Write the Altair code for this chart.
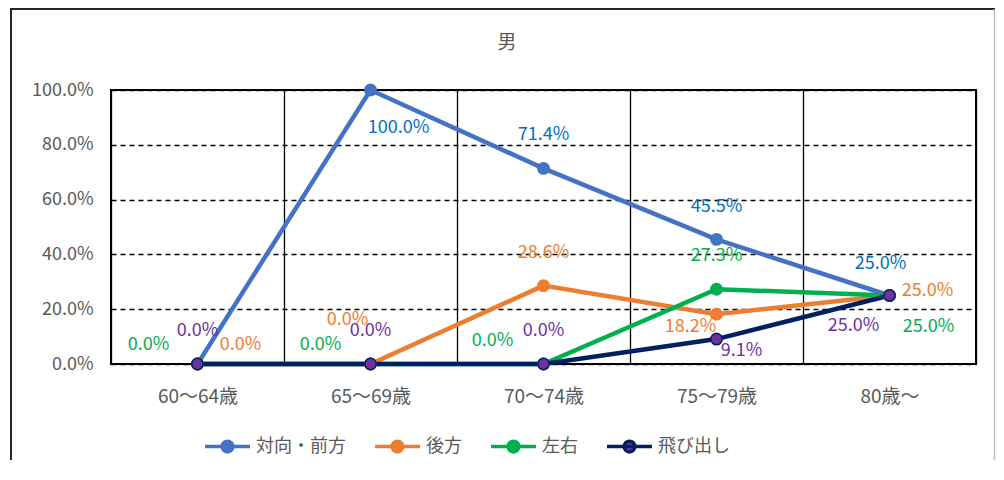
import altair as alt
import pandas as pd

categories = ["60～64歳", "65～69歳", "70～74歳", "75～79歳", "80歳～"]
series_names = ["対向・前方", "後方", "左右", "飛び出し"]
front = [0.0, 100.0, 71.4, 45.5, 25.0]
rear = [0.0, 0.0, 28.6, 18.2, 25.0]
side = [0.0, 0.0, 0.0, 27.3, 25.0]
dash = [0.0, 0.0, 0.0, 9.1, 25.0]
values = [front, rear, side, dash]

line_colors = ["#4472C4", "#ED7D31", "#00B050", "#002060"]
marker_fills = ["#4472C4", "#ED7D31", "#00B050", "#7030A0"]
label_colors = ["#0070C0", "#ED7D31", "#00B050", "#7030A0"]

# label placement offsets (px) per series / category; None = label hidden
label_offsets = [
    [None, (28, 38), (0, -33), (0, -32), (-9, -32)],
    [(43, -19), (-23, -44), (0, -33), (-26, 13), (38, -5)],
    [(-49, -19), (-50, -19), (-51, -23), (0, -33), (39, 31)],
    [(0, -33), (0, -33), (0, -33), (25, 12), (-36, 30)],
]

FONT = "Noto Sans CJK JP"
GRAY = "#595959"

rows = []
for s, vals in zip(series_names, values):
    for c, v in zip(categories, vals):
        rows.append({"cat": c, "series": s, "value": v})
df = pd.DataFrame(rows)

x_scale = alt.Scale(type="band", domain=categories, paddingInner=0, paddingOuter=0)
y_scale = alt.Scale(domain=[0, 100], nice=False)

x_axis = alt.X(
    "cat:N", sort=categories, scale=x_scale,
    axis=alt.Axis(title=None, tickBand="extent", grid=True, gridColor="black",
                  gridWidth=1.3, ticks=False, domain=False, labelAngle=0,
                  labelPadding=23, labelFontSize=19, labelColor=GRAY, labelFont=FONT),
)
y_axis = alt.Y(
    "value:Q", scale=y_scale,
    axis=alt.Axis(title=None, values=[0, 20, 40, 60, 80, 100],
                  labelExpr="format(datum.value, '.1f') + '%'",
                  grid=True, gridDash=[5, 4], gridColor="black", gridWidth=1.3,
                  ticks=False, tickSize=0, domain=False, labelPadding=18,
                  labelFontSize=18, labelColor=GRAY, labelFont=FONT),
)

legend = alt.Legend(
    title=None, orient="none", legendX=92, legendY=332, direction="horizontal",
    symbolType="M-1,0H1M-0.24,0A0.24,0.24 0 1,0 0.24,0A0.24,0.24 0 1,0 -0.24,0Z",
    symbolSize=2025, symbolStrokeWidth=3.5, labelFontSize=18, labelColor=GRAY,
    labelFont=FONT, columnPadding=22, labelOffset=4,
)

stroke_enc = alt.Stroke("series:N", scale=alt.Scale(domain=series_names, range=line_colors), legend=legend)
fill_enc = alt.Fill("series:N", scale=alt.Scale(domain=series_names, range=marker_fills), legend=legend)

base = alt.Chart(df)
lines = base.mark_line(strokeWidth=4.5).encode(
    x=x_axis, y=y_axis, stroke=stroke_enc, detail="series:N",
)
points = base.mark_point(filled=True, size=130, shape="circle", opacity=1, strokeWidth=1.5).encode(
    x=alt.X("cat:N", sort=categories, scale=x_scale),
    y=alt.Y("value:Q", scale=y_scale),
    fill=fill_enc, stroke=stroke_enc,
)

layers = [lines, points]

for i, s in enumerate(series_names):
    for j, c in enumerate(categories):
        off = label_offsets[i][j]
        if off is None:
            continue
        v = values[i][j]
        ldf = pd.DataFrame([{"cat": c, "value": v, "label": f"{v:.1f}%"}])
        layers.append(
            alt.Chart(ldf).mark_text(
                dx=off[0], dy=off[1], color=label_colors[i], fontSize=18, font=FONT,
                align="center", baseline="middle",
            ).encode(
                x=alt.X("cat:N", sort=categories, scale=x_scale),
                y=alt.Y("value:Q", scale=y_scale),
                text="label:N",
            )
        )

deco = pd.DataFrame({"k": [0]})
title = alt.Chart(deco).mark_text(text="男", fontSize=19, color=GRAY, font=FONT).encode(
    x=alt.value(396), y=alt.value(-47))
border_left = alt.Chart(deco).mark_rule(color="#262626", strokeWidth=2).encode(
    x=alt.value(-100), y=alt.value(-81), y2=alt.value(390))
border_top = alt.Chart(deco).mark_rule(color="#262626", strokeWidth=2).encode(
    x=alt.value(-101), x2=alt.value(884), y=alt.value(-81))
border_right = alt.Chart(deco).mark_rule(color="#BFBFBF", strokeWidth=1.5).encode(
    x=alt.value(883.5), y=alt.value(-81), y2=alt.value(390))

chart = alt.layer(*layers, title, border_left, border_top, border_right).properties(
    width=865, height=274,
    autosize=alt.AutoSizeParams(type="none"),
    padding={"left": 103, "top": 82, "right": 20, "bottom": 96},
).configure(font=FONT).configure_view(stroke="black", strokeWidth=2)

chart.save("out.html", embed_options={"renderer": "svg", "actions": False})
